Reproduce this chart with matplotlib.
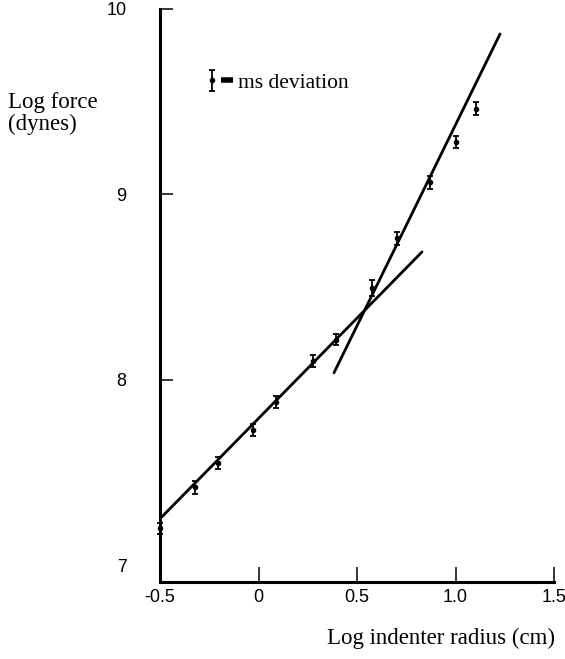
import matplotlib
matplotlib.use("Agg")
import matplotlib.pyplot as plt
from matplotlib.lines import Line2D
from matplotlib.legend_handler import HandlerTuple
import numpy as np

# measured points (log indenter radius, log force) and rms deviation
log_radius = [-0.50, -0.32, -0.206, -0.028, 0.089, 0.277, 0.393, 0.576, 0.703, 0.871, 1.003, 1.104]
log_force = [7.20, 7.42, 7.553, 7.730, 7.881, 8.102, 8.216, 8.496, 8.765, 9.067, 9.283, 9.461]
rms_dev = [0.03, 0.035, 0.033, 0.03, 0.03, 0.03, 0.03, 0.045, 0.035, 0.035, 0.03, 0.035]

# the two fitted lines (end points)
fit_low_x = [-0.50, 0.830]
fit_low_y = [7.251, 8.690]
fit_high_x = [0.383, 1.226]
fit_high_y = [8.038, 9.865]

xticks = [-0.5, 0, 0.5, 1.0, 1.5]
xticklabels = ["-0.5", "0", "0.5", "1.0", "1.5"]
yticks = [7, 8, 9, 10]
yticklabels = ["7", "8", "9", "10"]

serif = ["Liberation Serif", "DejaVu Serif"]
sans = ["Liberation Sans", "DejaVu Sans"]

fig = plt.figure(figsize=(5.65, 6.59), dpi=100)
ax = fig.add_axes([160 / 565, 77 / 659, 394 / 565, 573 / 659])

ax.plot(fit_low_x, fit_low_y, color="black", lw=2.0, solid_capstyle="round")
ax.plot(fit_high_x, fit_high_y, color="black", lw=2.0, solid_capstyle="round")
eb = ax.errorbar(log_radius, log_force, yerr=rms_dev, fmt="o", ms=3, color="black",
                 ecolor="black", elinewidth=1.3, capsize=2.5, capthick=1.3, clip_on=False)

ax.set_xlim(-0.5, 1.5)
ax.set_ylim(6.91, 10)
ax.spines["top"].set_visible(False)
ax.spines["right"].set_visible(False)
ax.spines["left"].set_linewidth(2.2)
ax.spines["bottom"].set_linewidth(2.2)

ax.set_xticks(xticks)
ax.set_xticklabels(xticklabels, family=sans, fontsize=13)
ax.set_yticks(yticks)
ax.set_yticklabels(yticklabels, family=sans, fontsize=13)
ax.tick_params(axis="x", direction="in", length=11, width=1.1, pad=5)
ax.tick_params(axis="y", direction="in", length=9.5, width=1.1, pad=24)
ax.xaxis.get_major_ticks()[0].tick1line.set_visible(False)
ax.yaxis.get_major_ticks()[0].tick1line.set_visible(False)

dash = Line2D([], [], color="black", lw=4, solid_capstyle="butt")
ax.legend(handles=[(eb, dash)], labels=["ms deviation"], loc="center left",
          bbox_to_anchor=(0.088, 0.871), frameon=False, handlelength=1.3,
          handletextpad=0.2, borderpad=0,
          handler_map={tuple: HandlerTuple(ndivide=None, pad=0.1)},
          prop={"family": serif, "size": 15.5})

fig.text(8 / 565, 1 - 92 / 659, "Log force\n(dynes)", ha="left", va="top",
         family=serif, fontsize=16.5, linespacing=1.05)
fig.text(441 / 565, 1 - 638 / 659, "Log indenter radius (cm)", ha="center", va="center",
         family=serif, fontsize=16.5)

fig.savefig("out.png", dpi=100)
